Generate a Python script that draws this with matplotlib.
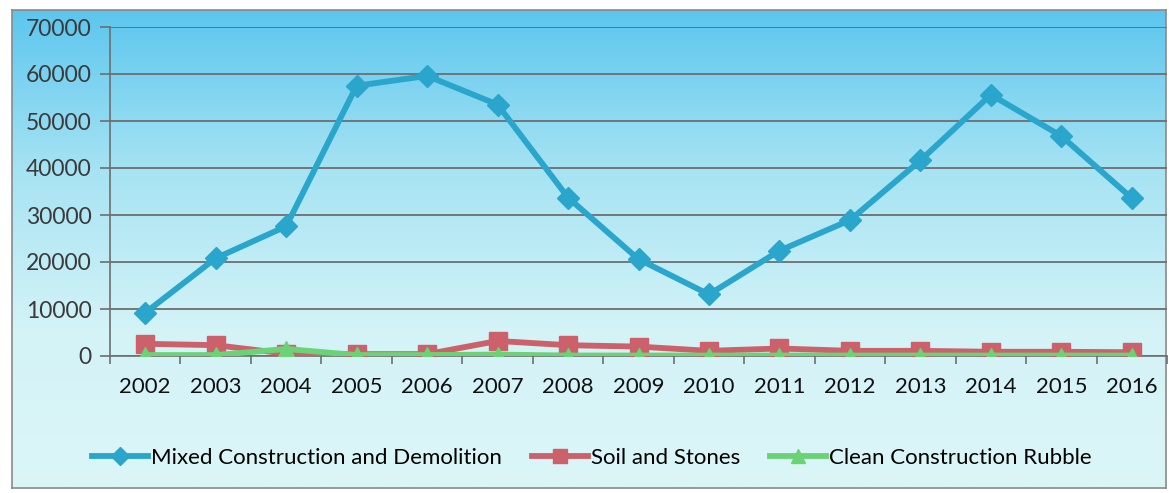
import numpy as np
import matplotlib
matplotlib.use('Agg')
import matplotlib.pyplot as plt
from matplotlib.colors import LinearSegmentedColormap

years = ['2002', '2003', '2004', '2005', '2006', '2007', '2008', '2009',
         '2010', '2011', '2012', '2013', '2014', '2015', '2016']
mixed = [9200, 20800, 27600, 57500, 59600, 53500, 33700, 20600,
         13100, 22400, 28900, 41600, 55600, 46800, 33600]
soil = [2600, 2300, 500, 400, 400, 3200, 2300, 2000,
        1100, 1600, 1100, 1100, 900, 900, 800]
rubble = [200, 200, 1500, 200, 200, 300, 100, 100,
          100, 100, 100, 100, 100, 100, 100]

plt.rcParams['font.family'] = ['Lato', 'DejaVu Sans']

W, H = 1169, 493
fig = plt.figure(figsize=(W / 100, H / 100), dpi=100)
fig.patch.set_facecolor('white')

# gradient background with border
bg = fig.add_axes([12 / W, 1 - 488 / H, (1166 - 12) / W, (488 - 10) / H])
cmap = LinearSegmentedColormap.from_list('sky', ['#5cc6ee', '#a6e3f3', '#d3f3f7', '#dcf6f8'])
grad = np.linspace(0, 1, 256).reshape(-1, 1)
bg.imshow(grad, aspect='auto', cmap=cmap, extent=[0, 1, 1, 0])
bg.set_xticks([])
bg.set_yticks([])
for s in bg.spines.values():
    s.set_color('#8a8a8a')
    s.set_linewidth(1.2)
bg.set_zorder(0)

ax = fig.add_axes([110 / W, 1 - 356 / H, (1167 - 110) / W, (356 - 27) / H])
ax.set_zorder(1)
ax.patch.set_alpha(0)

x = np.arange(len(years))
ax.plot(x, mixed, color='#2aa5cb', lw=4.2, marker='D', ms=11,
        label='Mixed Construction and Demolition', zorder=3)
ax.plot(x, soil, color='#cc616c', lw=4.2, marker='s', ms=13,
        label='Soil and Stones', zorder=3)
ax.plot(x, rubble, color='#6cd276', lw=4.2, marker='^', ms=12,
        label='Clean Construction Rubble', zorder=4)

ax.set_xlim(-0.5, len(years) - 0.5)
ax.set_ylim(0, 70000)
ax.set_yticks(np.arange(0, 70001, 10000))
ax.yaxis.grid(True, color='#6e6e6e', lw=1.3)
ax.set_axisbelow(True)

ax.set_xticks(x)
ax.set_xticklabels(years)
ax.set_xticks(np.arange(-0.5, len(years), 1), minor=True)
ax.tick_params(axis='x', which='major', length=0, pad=15, labelsize=16, labelcolor='#111111')
ax.tick_params(axis='x', which='minor', length=6, color='#6e6e6e', width=1.2)
ax.tick_params(axis='y', length=7, color='#6e6e6e', width=1.2, pad=6,
               labelsize=16.5, labelcolor='#3a3a3a')

for side in ['top', 'right']:
    ax.spines[side].set_visible(False)
ax.spines['left'].set_color('#6e6e6e')
ax.spines['bottom'].set_color('#6e6e6e')
ax.spines['left'].set_linewidth(1.2)
ax.spines['bottom'].set_linewidth(1.2)

leg = fig.legend(loc='center', bbox_to_anchor=(592 / W, 1 - 458 / H), ncol=3,
                 frameon=False, fontsize=16, handlelength=2.5, columnspacing=1.35,
                 handletextpad=0.15, markerscale=0.8)

fig.savefig('out.png', dpi=100)
